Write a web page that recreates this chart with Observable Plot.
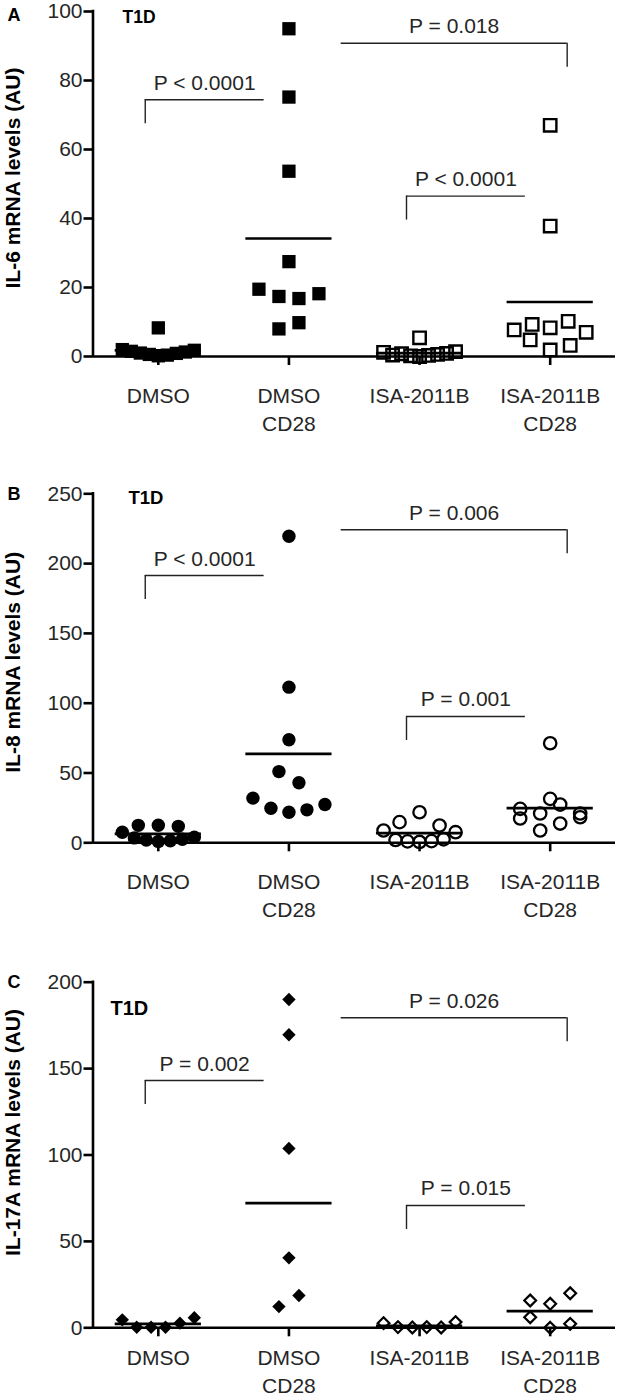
<!DOCTYPE html>
<html><head><meta charset="utf-8">
<script src="https://cdn.jsdelivr.net/npm/d3@7"></script>
<script src="https://cdn.jsdelivr.net/npm/@observablehq/plot@0.6"></script>
<style>
body{margin:0;background:#fff;font-family:"Liberation Sans",Arial,sans-serif;}
#chart{width:619px;}
#chart svg{display:block;}
</style></head><body><div id="chart"></div>
<script>
// ---- categories (shared) ----
const categories = ["DMSO", "DMSO\nCD28", "ISA-2011B", "ISA-2011B\nCD28"];
const bracketFrom = [0, 1, 2];
const bracketTo = [1, 3, 3];
const bracketTickAt = [0, 3, 2];

// ---- Panel A: IL-6 ----
const il6Dmso = [2.0, 1.5, 1.0, 0.6, 0.2, 0.4, 0.9, 1.3, 1.8, 8.3];
const il6DmsoCD28 = [8.0, 9.8, 19.5, 17.4, 16.8, 18.2, 27.5, 53.7, 75.2, 95.0];
const il6Isa = [1.2, 0.4, 0.8, 0.2, 0.0, 0.3, 0.6, 0.9, 1.4, 5.4];
const il6IsaCD28 = [4.8, 1.9, 3.2, 7.7, 9.3, 8.3, 10.2, 7.0, 37.8, 67.0];
const il6Means = [1.8, 34.2, 1.0, 15.8];
const il6Ticks = [0, 20, 40, 60, 80, 100];
const il6BracketLevel = [74.4, 90.8, 46.5];
const il6BracketLabel = ["P < 0.0001", "P = 0.018", "P < 0.0001"];

// ---- Panel B: IL-8 ----
const il8Dmso = [7.6, 3.5, 2.0, 1.0, 1.5, 2.5, 4.0, 12.5, 12.6, 11.8];
const il8DmsoCD28 = [32.0, 24.8, 21.9, 23.6, 27.4, 51.0, 43.0, 73.8, 111.5, 219.6];
const il8Isa = [8.8, 2.0, 1.0, 0.6, 1.2, 2.5, 7.6, 14.8, 21.9, 12.4];
const il8IsaCD28 = [17.4, 8.8, 13.8, 18.3, 24.3, 21.0, 27.4, 21.0, 31.5, 71.3];
const il8Means = [6.4, 63.7, 6.9, 24.8];
const il8Ticks = [0, 50, 100, 150, 200, 250];
const il8BracketLevel = [191.5, 224.2, 90.5];
const il8BracketLabel = ["P < 0.0001", "P = 0.006", "P = 0.001"];

// ---- Panel C: IL-17A ----
const il17Dmso = [4.6, 0.3, 0.3, 0.3, 2.7, 5.8];
const il17DmsoCD28 = [12.3, 18.7, 40.5, 103.8, 169.6, 190.0];
const il17Isa = [2.7, 0.4, 0.2, 0.4, 0.2, 3.3];
const il17IsaCD28 = [6.1, 0.0, 2.3, 15.8, 13.9, 20.0];
const il17Means = [2.3, 72.1, 1.2, 9.6];
const il17Ticks = [0, 50, 100, 150, 200];
const il17BracketLevel = [143.1, 179.4, 70.8];
const il17BracketLabel = ["P = 0.002", "P = 0.026", "P = 0.015"];

// ---- layout / style config ----
const W = 619, ML = 92.5, MR = 4;
const FONT = "Liberation Sans, Arial, Helvetica, sans-serif";
const TXT = "#262626";
const panels = [
  {letter: "A", title: "IL-6 mRNA levels (AU)", groups: [il6Dmso, il6DmsoCD28, il6Isa, il6IsaCD28],
   means: il6Means, ticks: il6Ticks, level: il6BracketLevel, label: il6BracketLabel,
   symbol: "square", rFill: 7.5, rHollow: 7.0, hollowSW: 2.4,
   height: 460, mt: 11, mb: 104, titleDy: -6, letterDy: -3, t1dDx: 29.5, t1dDy: -1, t1dSize: 17.5, catDy: 27},
  {letter: "B", title: "IL-8 mRNA levels (AU)", groups: [il8Dmso, il8DmsoCD28, il8Isa, il8IsaCD28],
   means: il8Means, ticks: il8Ticks, level: il8BracketLevel, label: il8BracketLabel,
   symbol: "circle", rFill: 6.7, rHollow: 6.2, hollowSW: 2.3,
   height: 490, mt: 33.3, mb: 107.7, titleDy: -6, letterDy: -6.6, t1dDx: 35.5, t1dDy: -3.3, t1dSize: 18.5, catDy: 26},
  {letter: "C", title: "IL-17A mRNA levels (AU)", groups: [il17Dmso, il17DmsoCD28, il17Isa, il17IsaCD28],
   means: il17Means, ticks: il17Ticks, level: il17BracketLevel, label: il17BracketLabel,
   symbol: d3.symbolDiamond2, rFill: 6.0, rHollow: 5.3, hollowSW: 2.2,
   height: 449, mt: 31.7, mb: 71.7, titleDy: -22.5, letterDy: -6.7, t1dDx: 17.5, t1dDy: 18.3, t1dSize: 20, catDy: 17}
];

// column-scatter arrangement: points falling in the same row band are spread symmetrically
function arrange(values, cat, yPx, step) {
  const ROW = 14.5, GAP = 20, SPAN = 72;
  const pts = values.map((v, i) => ({v, i, py: yPx(v)}));
  const sorted = pts.slice().sort((a, b) => b.py - a.py);
  const rows = [];
  let cur = null;
  for (const p of sorted) {
    if (!cur || cur.start - p.py > ROW) { cur = {start: p.py, pts: []}; rows.push(cur); }
    cur.pts.push(p);
  }
  for (const r of rows) {
    r.pts.sort((a, b) => a.i - b.i);
    const n = r.pts.length;
    const s = n > 1 ? Math.min(GAP, SPAN / (n - 1)) : 0;
    r.pts.forEach((p, k) => { p.off = (k - (n - 1) / 2) * s; });
  }
  return pts.map(p => ({cat, value: p.v, x: cat + p.off / step}));
}

const root = document.getElementById("chart");
for (const P of panels) {
  const step = (W - ML - MR) / 4;
  const yMax = P.ticks[P.ticks.length - 1];
  const yPx = d3.scaleLinear([0, yMax], [P.height - P.mb, P.mt]);
  const pts = P.groups.flatMap((g, c) => arrange(g, c, yPx, step));
  const filled = pts.filter(d => d.cat < 2);
  const hollow = pts.filter(d => d.cat >= 2);
  const meanData = P.means.map((m, c) => ({cat: c, value: m}));
  const unitsPerPx = yMax / (P.height - P.mb - P.mt);
  const br = P.level.map((lv, k) => {
    const a = bracketFrom[k], b = bracketTo[k], t = bracketTickAt[k];
    let x1, x2;
    if (t === a) { x1 = a - 0.10; x2 = b - 0.19; } else { x1 = a + 0.40; x2 = b + 0.13; }
    const tx = t === a ? x1 : x2;
    return {x1, x2, tx, y: lv, y2: lv - 24 * unitsPerPx, label: P.label[k], xm: (x1 + x2) / 2};
  });

  const plot = Plot.plot({
    width: W, height: P.height,
    marginLeft: ML, marginRight: MR, marginTop: P.mt, marginBottom: P.mb,
    style: {fontFamily: FONT, background: "white", color: "black", overflow: "visible"},
    x: {domain: [-0.5, 3.5], label: null},
    y: {domain: [0, yMax], label: null},
    marks: [
      Plot.axisY({ticks: P.ticks, tickSize: 9, tickPadding: 1.5, fontSize: 21, strokeWidth: 2.6,
                  stroke: "black", fill: TXT, label: null}),
      Plot.axisX({ticks: [0, 1, 2, 3], tickSize: 9, tickFormat: () => "", strokeWidth: 2.6,
                  stroke: "black", label: null}),
      Plot.text(categories, {x: (d, i) => i, frameAnchor: "bottom", dy: P.catDy, lineAnchor: "top",
                  lineHeight: 1.33, fontSize: 21, fill: TXT}),
      Plot.ruleY([0], {stroke: "black", strokeWidth: 2.6}),
      Plot.ruleX([-0.5], {stroke: "black", strokeWidth: 2.6, strokeLinecap: "square"}),
      Plot.dot(filled, {x: "x", y: "value", symbol: P.symbol, r: P.rFill, fill: "black", stroke: "none"}),
      Plot.dot(hollow, {x: "x", y: "value", symbol: P.symbol, r: P.rHollow, fill: "none",
                  stroke: "black", strokeWidth: P.hollowSW}),
      Plot.ruleY(meanData, {y: "value", x1: d => d.cat - 0.33, x2: d => d.cat + 0.33,
                  stroke: "black", strokeWidth: 2.7}),
      Plot.ruleY(br, {y: "y", x1: "x1", x2: "x2", stroke: "#222", strokeWidth: 1.4}),
      Plot.ruleX(br, {x: "tx", y1: "y", y2: "y2", stroke: "#222", strokeWidth: 1.4}),
      Plot.text(br, {x: "xm", y: "y", text: "label", dy: -16.7, lineAnchor: "middle",
                  fontSize: 21, fill: TXT}),
      Plot.text([P.title], {frameAnchor: "left", rotate: -90, dx: 12.5 - ML, dy: P.titleDy,
                  lineAnchor: "middle", textAnchor: "middle", fontSize: 21, fontWeight: "bold", fill: "black"}),
      Plot.text([P.letter], {frameAnchor: "top-left", dx: 7 - ML, dy: P.letterDy, textAnchor: "start",
                  lineAnchor: "top", fontSize: 18, fontWeight: "bold", fill: "black"}),
      Plot.text(["T1D"], {frameAnchor: "top-left", dx: P.t1dDx, dy: P.t1dDy, textAnchor: "start",
                  lineAnchor: "top", fontSize: P.t1dSize, fontWeight: "bold", fill: "black"})
    ]
  });
  root.appendChild(plot);
}
</script></body></html>
